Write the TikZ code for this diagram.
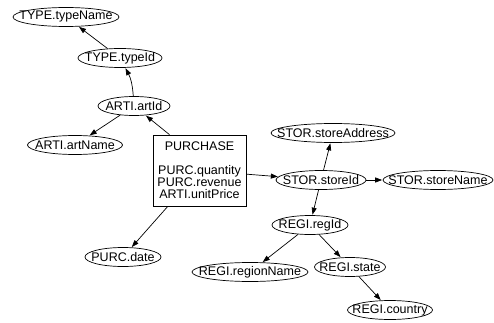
\documentclass[tikz,border=0pt]{standalone}
\usepackage{fontspec}
\setmainfont{Liberation Sans}
\usetikzlibrary{shapes.geometric,arrows.meta,calc}
\begin{document}
\begin{tikzpicture}[x=1pt,y=-1pt,
  every node/.style={font=\fontsize{12.5}{12}\selectfont},
  attr/.style={ellipse,draw,line width=0.7pt,inner xsep=-30pt,inner ysep=-8pt,minimum height=19},
  fact/.style={rectangle,draw,line width=0.7pt,inner sep=0pt,minimum width=93,minimum height=71,align=center},
  link/.style={line width=0.7pt,-{Triangle[length=7pt,width=5pt]},shorten >=0.5pt}]
\useasboundingbox (0,0) rectangle (494,323);

% dimension attributes
\node[attr,minimum width=106] (tname) at (66,17) {TYPE.typeName};
\node[attr,minimum width=84] (tid) at (120,58) {TYPE.typeId};
\node[attr,minimum width=72] (aid) at (134,106) {ARTI.artId};
\node[attr,minimum width=95] (aname) at (75,145) {ARTI.artName};
\node[attr,minimum width=76] (pdate) at (123,257) {PURC.date};
\node[attr,minimum width=124] (saddr) at (333,133) {STOR.storeAddress};
\node[attr,minimum width=90] (sid) at (321,180) {STOR.storeId};
\node[attr,minimum width=110] (sname) at (438,180) {STOR.storeName};
\node[attr,minimum width=76] (rid) at (310,225) {REGI.regId};
\node[attr,minimum width=116] (rname) at (250,272) {REGI.regionName};
\node[attr,minimum width=71] (rstate) at (350,267) {REGI.state};
\node[attr,minimum width=85] (rcountry) at (390,310) {REGI.country};

% fact
\node[fact] (fact) at (199.5,170.5) {PURCHASE\\[12pt]PURC.quantity\\PURC.revenue\\ARTI.unitPrice};

% hierarchy edges
\draw[link] (fact.north) ++(-30,0) -- (aid);
\draw[link] (fact) -- (pdate);
\draw[link] (fact) -- (sid);
\draw[link] (aid) to[bend right=12] (tid);
\draw[link] (aid) -- (aname);
\draw[link] (tid) -- (tname);
\draw[link] (sid) -- (saddr);
\draw[link] (sid) -- (sname);
\draw[link] (sid) -- (rid);
\draw[link] (rid) -- (rname);
\draw[link] (rid) -- (rstate);
\draw[link] (rstate) -- (rcountry);
\end{tikzpicture}
\end{document}
